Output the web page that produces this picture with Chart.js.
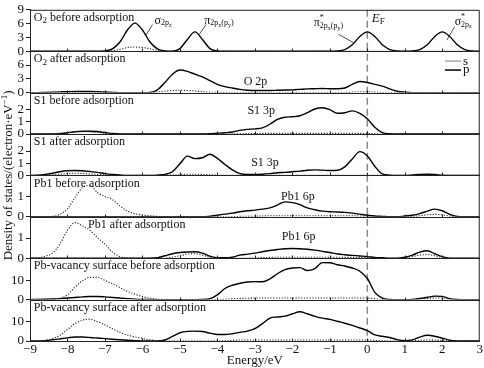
<!DOCTYPE html>
<html>
<head>
<meta charset="utf-8">
<script src="https://cdn.jsdelivr.net/npm/chart.js@4/dist/chart.umd.min.js"></script>
<style>
  html, body { margin: 0; padding: 0; background: #fff; }
  #wrap { width: 484px; height: 368px; }
</style>
</head>
<body>
<div id="wrap"><canvas id="chart" width="484" height="368"></canvas></div>
<script>
// energy grid (eV), shared by all curves
const energies = [-9, -8.8, -8.6, -8.4, -8.2, -8, -7.8, -7.6, -7.4, -7.2,
  -7, -6.8, -6.6, -6.4, -6.2, -6, -5.8, -5.6, -5.4, -5.2,
  -5, -4.8, -4.6, -4.4, -4.2, -4, -3.8, -3.6, -3.4, -3.2,
  -3, -2.8, -2.6, -2.4, -2.2, -2, -1.8, -1.6, -1.4, -1.2,
  -1, -0.8, -0.6, -0.4, -0.2, 0, 0.2, 0.4, 0.6, 0.8,
  1, 1.2, 1.4, 1.6, 1.8, 2, 2.2, 2.4, 2.6, 2.8, 3];

// O2 before adsorption
const o2BeforeP = [0, 0, 0, 0, 0, 0, 0, 0, 0, 0,
  0.08, 0.52, 2.0, 4.6, 6.1, 4.6, 2.0, 0.52, 0.08, 0.02,
  0.57, 2.55, 4.2, 2.55, 0.57, 0.05, 0, 0, 0, 0,
  0, 0, 0, 0, 0, 0, 0, 0, 0, 0,
  0, 0.05, 0.36, 1.4, 3.2, 4.2, 3.2, 1.4, 0.36, 0.05,
  0, 0.05, 0.36, 1.4, 3.2, 4.2, 3.2, 1.4, 0.36, 0.05, 0];
const o2BeforeS = [0, 0, 0, 0, 0, 0, 0, 0, 0, 0,
  0, 0.1, 0.4, 0.8, 0.9, 0.8, 0.5, 0.2, 0.05, 0,
  0, 0, 0, 0, 0, 0, 0, 0, 0, 0,
  0, 0, 0, 0, 0, 0, 0, 0, 0, 0,
  0, 0, 0, 0, 0, 0, 0, 0, 0, 0,
  0, 0, 0, 0, 0, 0, 0, 0, 0, 0, 0];

// O2 after adsorption
const o2AfterP = [0, 0, 0.05, 0.1, 0.15, 0.2, 0.25, 0.25, 0.25, 0.2,
  0.12, 0.05, 0, 0, 0, 0, 0.05, 0.6, 2.2, 4.0,
  4.9, 4.6, 4.0, 3.4, 2.6, 1.8, 1.3, 1.0, 0.7, 0.5,
  0.45, 0.45, 0.45, 0.5, 0.55, 0.6, 0.7, 0.8, 0.85, 0.9,
  0.85, 0.85, 1.0, 1.8, 2.4, 2.2, 1.8, 1.4, 0.8, 0.3,
  0.1, 0, 0, 0, 0, 0, 0, 0, 0, 0, 0];
const o2AfterS = [0, 0, 0, 0, 0, 0, 0, 0, 0, 0,
  0, 0, 0, 0, 0, 0, 0, 0.1, 0.3, 0.45,
  0.5, 0.45, 0.35, 0.2, 0.1, 0.05, 0, 0, 0, 0,
  0, 0, 0, 0, 0, 0, 0, 0, 0, 0,
  0, 0, 0, 0.1, 0.2, 0.2, 0.1, 0, 0, 0,
  0, 0, 0, 0, 0, 0, 0, 0, 0, 0, 0];

// S1 before adsorption
const s1BeforeP = [0, 0, 0, 0, 0.03, 0.1, 0.18, 0.22, 0.22, 0.2,
  0.12, 0.04, 0, 0, 0, 0, 0, 0, 0, 0,
  0, 0, 0, 0, 0.02, 0.06, 0.1, 0.16, 0.3, 0.38,
  0.42, 0.5, 0.8, 1.2, 1.38, 1.42, 1.5, 1.75, 2.05, 2.15,
  2.0, 1.7, 1.75, 1.9, 1.7, 1.25, 0.56, 0.12, 0.02, 0,
  0, 0, 0, 0, 0, 0, 0, 0, 0, 0, 0];
const s1BeforeS = [0, 0, 0, 0.02, 0.06, 0.12, 0.18, 0.2, 0.18, 0.12,
  0.06, 0.02, 0, 0, 0, 0, 0, 0, 0, 0,
  0, 0, 0, 0, 0, 0, 0, 0.01, 0.02, 0.03,
  0.04, 0.05, 0.05, 0.05, 0.05, 0.05, 0.05, 0.05, 0.05, 0.05,
  0.05, 0.05, 0.05, 0.05, 0.05, 0.04, 0.02, 0, 0, 0,
  0, 0, 0, 0, 0, 0, 0, 0, 0, 0, 0];

// S1 after adsorption
const s1AfterP = [0, 0.02, 0.08, 0.18, 0.3, 0.38, 0.4, 0.38, 0.32, 0.25,
  0.15, 0.08, 0.03, 0, 0, 0, 0, 0.02, 0.08, 0.3,
  0.95, 1.58, 1.38, 1.45, 1.74, 1.4, 0.9, 0.45, 0.15, 0.08,
  0.08, 0.1, 0.15, 0.22, 0.25, 0.3, 0.35, 0.42, 0.45, 0.43,
  0.4, 0.42, 0.7, 1.35, 1.95, 1.6, 0.75, 0.12, 0.02, 0,
  0, 0.03, 0.08, 0.1, 0.07, 0.02, 0, 0, 0, 0, 0];
const s1AfterS = [0, 0, 0, 0.05, 0.1, 0.15, 0.18, 0.16, 0.12, 0.08,
  0.04, 0, 0, 0, 0, 0, 0, 0, 0, 0.03,
  0.05, 0.1, 0.1, 0.08, 0.05, 0.02, 0, 0, 0, 0,
  0, 0, 0, 0, 0, 0, 0, 0, 0, 0,
  0, 0, 0, 0, 0, 0, 0, 0, 0, 0,
  0, 0, 0, 0, 0, 0, 0, 0, 0, 0, 0];

// Pb1 before adsorption
const pb1BeforeP = [0, 0, 0, 0, 0, 0, 0, 0, 0, 0,
  0, 0, 0, 0, 0, 0, 0, 0, 0, 0,
  0, 0, 0, 0, 0.03, 0.08, 0.13, 0.18, 0.25, 0.3,
  0.33, 0.38, 0.44, 0.58, 0.74, 0.7, 0.6, 0.44, 0.35, 0.28,
  0.25, 0.24, 0.22, 0.18, 0.13, 0.08, 0.04, 0.02, 0, 0,
  0.04, 0.08, 0.16, 0.28, 0.38, 0.3, 0.12, 0.02, 0, 0, 0];
const pb1BeforeS = [0, 0, 0, 0.02, 0.12, 0.4, 0.95, 1.45, 1.55, 1.2,
  1.0, 0.85, 0.54, 0.28, 0.15, 0.08, 0.05, 0.02, 0, 0,
  0, 0, 0, 0, 0, 0, 0, 0.01, 0.02, 0.03,
  0.03, 0.04, 0.05, 0.05, 0.05, 0.05, 0.05, 0.05, 0.05, 0.05,
  0.05, 0.05, 0.05, 0.05, 0.04, 0.03, 0.02, 0, 0, 0,
  0, 0.02, 0.05, 0.1, 0.12, 0.1, 0.04, 0, 0, 0, 0];

// Pb1 after adsorption
const pb1AfterP = [0, 0, 0, 0, 0, 0, 0, 0, 0, 0,
  0, 0, 0, 0, 0, 0, 0, 0.02, 0.12, 0.22,
  0.28, 0.31, 0.32, 0.25, 0.1, 0.02, 0.02, 0.05, 0.15, 0.2,
  0.25, 0.32, 0.38, 0.43, 0.47, 0.48, 0.47, 0.44, 0.4, 0.34,
  0.28, 0.21, 0.17, 0.14, 0.11, 0.08, 0.04, 0.02, 0, 0,
  0.05, 0.15, 0.3, 0.37, 0.22, 0.08, 0, 0, 0, 0, 0];
const pb1AfterS = [0, 0.02, 0.1, 0.25, 0.7, 1.38, 1.76, 1.6, 1.38, 1.02,
  0.7, 0.3, 0.08, 0.01, 0, 0, 0, 0, 0, 0.05,
  0.12, 0.2, 0.22, 0.15, 0.05, 0, 0, 0, 0, 0,
  0.02, 0.03, 0.04, 0.05, 0.05, 0.05, 0.05, 0.05, 0.05, 0.05,
  0.05, 0.05, 0.04, 0.04, 0.03, 0.03, 0.02, 0, 0, 0,
  0.02, 0.08, 0.15, 0.18, 0.12, 0.04, 0, 0, 0, 0, 0];

// Pb-vacancy surface before adsorption
const vacBeforeP = [0, 0.05, 0.15, 0.3, 0.5, 0.8, 1.1, 1.4, 1.6, 1.6,
  1.4, 1.1, 0.8, 0.5, 0.25, 0.1, 0.03, 0, 0, 0,
  0, 0, 0, 0.05, 0.5, 2.5, 5.8, 7.5, 8.5, 9.2,
  9.4, 9.3, 10.8, 13.5, 15.6, 16.5, 16.7, 15.2, 16.2, 19.3,
  19.2, 18.2, 17.5, 16.5, 14.8, 11.0, 3.8, 0.8, 0.1, 0,
  0, 0.1, 0.6, 1.2, 1.8, 1.7, 0.5, 0.1, 0, 0, 0];
const vacBeforeS = [0, 0, 0, 0.2, 0.6, 2.5, 6.5, 9.8, 11.6, 11.6,
  10.0, 8.3, 6.3, 4.3, 2.8, 1.6, 0.7, 0.2, 0.05, 0,
  0, 0, 0, 0, 0, 0, 0.2, 0.4, 0.6, 0.7,
  0.8, 0.8, 0.8, 0.8, 0.8, 0.8, 0.8, 0.8, 0.8, 0.8,
  0.8, 0.8, 0.8, 0.8, 0.8, 0.8, 0.4, 0.1, 0, 0,
  0, 0, 0.2, 0.5, 0.8, 0.8, 0.3, 0, 0, 0, 0];

// Pb-vacancy surface after adsorption
const vacAfterP = [0, 0.05, 0.2, 0.6, 1.1, 1.6, 2.0, 2.0, 1.8, 1.5,
  1.2, 0.9, 0.6, 0.35, 0.15, 0.05, 0, 0, 0.5, 2.3,
  4.2, 4.9, 5.0, 4.8, 4.0, 3.3, 3.3, 3.7, 4.4, 5.0,
  6.3, 8.8, 11.6, 12.2, 12.6, 13.8, 14.8, 13.8, 12.5, 11.6,
  11.0, 10.0, 9.0, 7.9, 6.6, 5.3, 3.1, 2.4, 1.8, 0.7,
  0.2, 0.6, 2.0, 2.9, 2.4, 1.4, 0.4, 0.05, 0, 0, 0];
const vacAfterS = [0, 0, 0.3, 1.2, 2.9, 5.8, 8.8, 10.6, 11.1, 9.8,
  8.2, 6.2, 4.4, 3.0, 2.1, 1.3, 0.6, 0.15, 0, 0,
  0, 0, 0, 0, 0, 0, 0.1, 0.3, 0.5, 0.5,
  0.5, 0.5, 0.5, 0.5, 0.5, 0.5, 0.5, 0.5, 0.5, 0.5,
  0.5, 0.5, 0.5, 0.5, 0.5, 0.5, 0.3, 0.1, 0, 0,
  0, 0.1, 0.3, 0.5, 0.4, 0.2, 0, 0, 0, 0, 0];

const panelTitles = ['O_2 before adsorption', 'O_2 after adsorption',
  'S1 before adsorption', 'S1 after adsorption',
  'Pb1 before adsorption', 'Pb1 after adsorption',
  'Pb-vacancy surface before adsorption', 'Pb-vacancy surface after adsorption'];
const yMax = [9, 9, 3.4, 3.4, 2.05, 2.05, 21.6, 21];
const yTicks = [[0, 3, 6, 9], [0, 3, 6], [0, 1, 2], [0, 1, 2], [0, 1], [0, 1], [0, 10], [0, 10]];
const sSeries = [o2BeforeS, o2AfterS, s1BeforeS, s1AfterS, pb1BeforeS, pb1AfterS, vacBeforeS, vacAfterS];
const pSeries = [o2BeforeP, o2AfterP, s1BeforeP, s1AfterP, pb1BeforeP, pb1AfterP, vacBeforeP, vacAfterP];
const fermiLevel = 0;

const serif = '"Liberation Serif", "Times New Roman", serif';

// draws text made of pieces: [text, size, dy, italic, noAdvance]
function drawRich(ctx, x, y, parts, align) {
  let w = 0;
  parts.forEach(p => {
    ctx.font = (p[3] ? 'italic ' : '') + p[1] + 'px ' + serif;
    if (!p[4]) w += ctx.measureText(p[0]).width;
  });
  let cx = align === 'center' ? x - w / 2 : x;
  parts.forEach(p => {
    ctx.font = (p[3] ? 'italic ' : '') + p[1] + 'px ' + serif;
    ctx.fillText(p[0], cx, y + p[2]);
    if (!p[4]) cx += ctx.measureText(p[0]).width;
  });
}

function titleParts(str) {
  const parts = [];
  str.split(/_(\w)/).forEach((t, i) => {
    if (t) parts.push(i % 2 ? [t, 9, 3] : [t, 12, 0]);
  });
  return parts;
}

const yIds = panelTitles.map((t, k) => 'y' + (k + 1));

const scales = {
  x: {
    type: 'linear', min: -9, max: 3,
    afterFit: s => { s.height = 27; },
    grid: { display: false, drawTicks: false },
    border: { display: true, color: '#222', width: 1 },
    ticks: {
      stepSize: 1, autoSkip: false, maxRotation: 0, padding: 1, color: '#111',
      font: { family: serif, size: 13 },
      callback: v => v < 0 ? '\u2212' + Math.abs(v) : String(v)
    },
    title: { display: true, text: 'Energy/eV', color: '#111', padding: 0,
      font: { family: serif, size: 13 } }
  }
};
yIds.forEach((id, k) => {
  scales[id] = {
    type: 'linear', position: 'left', stack: 'dos', stackWeight: 1, weight: 8 - k,
    min: 0, max: yMax[k],
    afterBuildTicks: s => { s.ticks = yTicks[k].map(v => ({ value: v })); },
    afterFit: s => { s.width = 30; },
    grid: { drawOnChartArea: false, drawTicks: true, tickLength: 4, color: '#222' },
    border: { display: true, color: '#222', width: 1 },
    ticks: { autoSkip: false, padding: 2, color: '#111', font: { family: serif, size: 13 } }
  };
});

const datasets = [];
yIds.forEach((id, k) => {
  datasets.push({
    label: 's', yAxisID: id,
    data: energies.map((e, i) => ({ x: e, y: sSeries[k][i] })),
    borderColor: '#222', borderWidth: 1.1, borderDash: [1.2, 1.6],
    pointRadius: 0, fill: false, cubicInterpolationMode: 'monotone'
  });
  datasets.push({
    label: 'p', yAxisID: id,
    data: energies.map((e, i) => ({ x: e, y: pSeries[k][i] })),
    borderColor: '#000', borderWidth: 1.4,
    pointRadius: 0, fill: false, cubicInterpolationMode: 'monotone'
  });
});

// small text labels placed in data coordinates of a panel
const orbitalLabels = [
  { panel: 1, text: 'O 2p', e: -3.3, v: 2.4 },
  { panel: 2, text: 'S1 3p', e: -3.2, v: 1.9 },
  { panel: 3, text: 'S1 3p', e: -3.1, v: 1.0 },
  { panel: 4, text: 'Pb1 6p', e: -2.3, v: 1.0 },
  { panel: 5, text: 'Pb1 6p', e: -2.28, v: 1.05 }
];
const titleOffsets = [-8.9, -8.9, -8.9, -8.9, -8.9, -7.45, -8.9, -8.9];

const decorations = {
  id: 'decorations',
  beforeDatasetsDraw(chart) {
    const { ctx, chartArea: a, scales: sc } = chart;
    const xf = sc.x.getPixelForValue(fermiLevel);
    ctx.save();
    ctx.strokeStyle = '#888';
    ctx.lineWidth = 1.5;
    ctx.setLineDash([7, 4]);
    ctx.beginPath();
    ctx.moveTo(xf, a.top);
    ctx.lineTo(xf, a.bottom);
    ctx.stroke();
    ctx.restore();
  },
  afterDraw(chart) {
    const { ctx, chartArea: a, scales: sc } = chart;
    const xs = sc.x;
    ctx.save();
    ctx.strokeStyle = '#222';
    ctx.lineWidth = 1;
    // frame top and right
    ctx.beginPath();
    ctx.moveTo(a.left, a.top + 0.5);
    ctx.lineTo(a.right - 0.5, a.top + 0.5);
    ctx.lineTo(a.right - 0.5, a.bottom);
    ctx.stroke();
    // panel separators and inward x ticks
    yIds.forEach(id => {
      const b = Math.round(sc[id].bottom) + 0.5;
      ctx.beginPath();
      ctx.moveTo(a.left, b);
      ctx.lineTo(a.right, b);
      for (let e = -8; e <= 2; e++) {
        const px = Math.round(xs.getPixelForValue(e)) + 0.5;
        ctx.moveTo(px, b);
        ctx.lineTo(px, b - 3);
      }
      ctx.stroke();
    });

    ctx.fillStyle = '#111';
    ctx.textBaseline = 'middle';
    ctx.textAlign = 'left';
    // panel titles
    yIds.forEach((id, k) => {
      drawRich(ctx, xs.getPixelForValue(titleOffsets[k]), sc[id].top + 8, titleParts(panelTitles[k]));
    });
    orbitalLabels.forEach(l => {
      ctx.font = '12px ' + serif;
      ctx.fillText(l.text, xs.getPixelForValue(l.e), sc[yIds[l.panel]].getPixelForValue(l.v));
    });

    // orbital annotations in the first panel
    const y1 = sc.y1;
    const P = (e, v) => [xs.getPixelForValue(e), y1.getPixelForValue(v)];
    const leader = (from, to) => {
      const p0 = P(from[0], from[1]), p1 = P(to[0], to[1]);
      ctx.beginPath();
      ctx.moveTo(p0[0], p0[1]);
      ctx.lineTo(p1[0], p1[1]);
      ctx.stroke();
    };
    ctx.lineWidth = 0.8;
    let p = P(-5.68, 6.7);
    drawRich(ctx, p[0], p[1], [['\u03c3', 12, 0], ['2p', 8, 3], ['z', 6, 5]]);
    leader([-5.73, 5.8], [-5.92, 3.3]);
    p = P(-4.35, 6.7);
    drawRich(ctx, p[0], p[1], [['\u03c0', 12, 0], ['2p', 8, 3], ['x', 6, 5], ['(p', 8, 3], ['y', 6, 5], [')', 8, 3]]);
    leader([-4.3, 5.8], [-4.48, 3.7]);
    p = P(-1.43, 6.1);
    drawRich(ctx, p[0], p[1], [['\u03c0', 12, 0], ['*', 8, -5, false, true], ['2p', 8, 3], ['x', 6, 5], ['(p', 8, 3], ['y', 6, 5], [')', 8, 3]]);
    leader([-0.77, 3.7], [-0.37, 1.85]);
    p = P(0.12, 7.0);
    drawRich(ctx, p[0], p[1], [['E', 13, 0, true], ['F', 9, 3]]);
    p = P(2.33, 6.4);
    drawRich(ctx, p[0], p[1], [['\u03c3', 12, 0], ['*', 8, -5, false, true], ['2p', 8, 3], ['z', 6, 5]]);
    leader([2.33, 5.3], [2.12, 2.4]);

    // legend inside the second panel
    const y2 = sc.y2;
    const lx0 = xs.getPixelForValue(2.07), lx1 = xs.getPixelForValue(2.5);
    const ly = [y2.getPixelForValue(6.85), y2.getPixelForValue(4.9)];
    ctx.lineWidth = 1.5;
    ctx.strokeStyle = '#aaa';
    ctx.beginPath(); ctx.moveTo(lx0, ly[0]); ctx.lineTo(lx1, ly[0]); ctx.stroke();
    ctx.strokeStyle = '#000';
    ctx.beginPath(); ctx.moveTo(lx0, ly[1]); ctx.lineTo(lx1, ly[1]); ctx.stroke();
    ctx.font = '13px ' + serif;
    ctx.fillText('s', lx1 + 2, ly[0]);
    ctx.fillText('p', lx1 + 2, ly[1]);

    // y axis title
    ctx.translate(9, (a.top + a.bottom) / 2);
    ctx.rotate(-Math.PI / 2);
    drawRich(ctx, 0, 0, [['Density of states/(electron\u00b7eV', 13, 0], ['\u22121', 9, -4], [')', 13, 0]], 'center');
    ctx.restore();
  }
};

new Chart(document.getElementById('chart'), {
  type: 'line',
  data: { datasets },
  options: {
    responsive: false,
    animation: false,
    layout: { padding: { top: 3, right: 2, left: 0, bottom: 0 } },
    plugins: { legend: { display: false }, tooltip: { enabled: false } },
    scales
  },
  plugins: [decorations]
});
</script>
</body>
</html>
